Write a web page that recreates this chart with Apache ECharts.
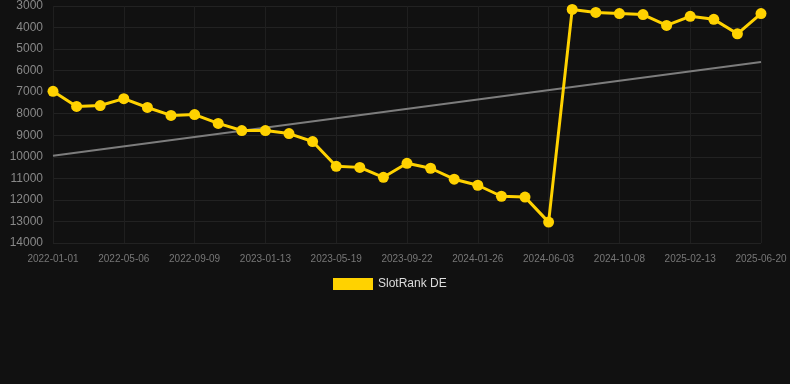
<!DOCTYPE html>
<html>
<head>
<meta charset="utf-8">
<script src="https://cdn.jsdelivr.net/npm/echarts@6/dist/echarts.min.js"></script>
<style>html,body{margin:0;padding:0;background:#111111;}#c{width:790px;height:384px;}</style>
</head>
<body>
<div id="c"></div>
<script>
var categories = ['2022-01-01','2022-02-11','2022-03-25','2022-05-06','2022-06-17','2022-07-29','2022-09-09','2022-10-21','2022-12-02','2023-01-13','2023-02-24','2023-04-07','2023-05-19','2023-06-30','2023-08-11','2023-09-22','2023-11-03','2023-12-15','2024-01-26','2024-03-08','2024-04-19','2024-06-03','2024-07-15','2024-08-26','2024-10-08','2024-11-19','2025-01-01','2025-02-13','2025-03-27','2025-05-08','2025-06-20'];
var rankValues = [6960,7660,7620,7300,7710,8080,8040,8450,8780,8780,8920,9290,10440,10490,10950,10300,10530,11040,11320,11830,11870,13030,3160,3300,3350,3400,3900,3480,3620,4290,3350];
var trendValues = [9950,null,null,null,null,null,null,null,null,null,null,null,null,null,null,null,null,null,null,null,null,null,null,null,null,null,null,null,null,null,5600];
var yTicks = {min: 3000, max: 14000, interval: 1000};

var chart = echarts.init(document.getElementById('c'), null, {renderer: 'canvas'});
chart.setOption({
  backgroundColor: '#111111',
  animation: false,
  grid: {left: 53, right: 29, top: 5, bottom: 141},
  legend: {
    data: ['SlotRank DE'],
    top: 273,
    left: 328,
    itemWidth: 40,
    itemHeight: 12,
    itemGap: 10,
    textStyle: {color: '#dddddd', fontSize: 12, fontFamily: 'Arial, Liberation Sans, sans-serif'},
    icon: 'rect'
  },
  xAxis: {
    type: 'category',
    data: categories,
    boundaryGap: false,
    axisLine: {show: false},
    axisTick: {show: false},
    axisLabel: {interval: 2, color: '#777777', fontSize: 10, margin: 11, fontFamily: 'Arial, Liberation Sans, sans-serif'},
    splitLine: {show: true, interval: 2, lineStyle: {color: '#1f1f1f', width: 1}}
  },
  yAxis: {
    type: 'value',
    inverse: true,
    min: yTicks.min,
    max: yTicks.max,
    interval: yTicks.interval,
    axisLine: {show: false},
    axisTick: {show: false},
    axisLabel: {color: '#888888', fontSize: 12, margin: 10, fontFamily: 'Arial, Liberation Sans, sans-serif', formatter: function (v) { return String(v); }},
    splitLine: {show: true, lineStyle: {color: '#222222', width: 1}}
  },
  series: [
    {
      name: 'Trend',
      type: 'line',
      data: trendValues,
      connectNulls: true,
      symbol: 'none',
      lineStyle: {color: '#7d7d7d', width: 2},
      silent: true,
      z: 1
    },
    {
      name: 'SlotRank DE',
      type: 'line',
      data: rankValues,
      symbol: 'circle',
      symbolSize: 11,
      itemStyle: {color: '#ffd200'},
      lineStyle: {color: '#ffd200', width: 3},
      z: 2
    }
  ]
});
</script>
</body>
</html>
